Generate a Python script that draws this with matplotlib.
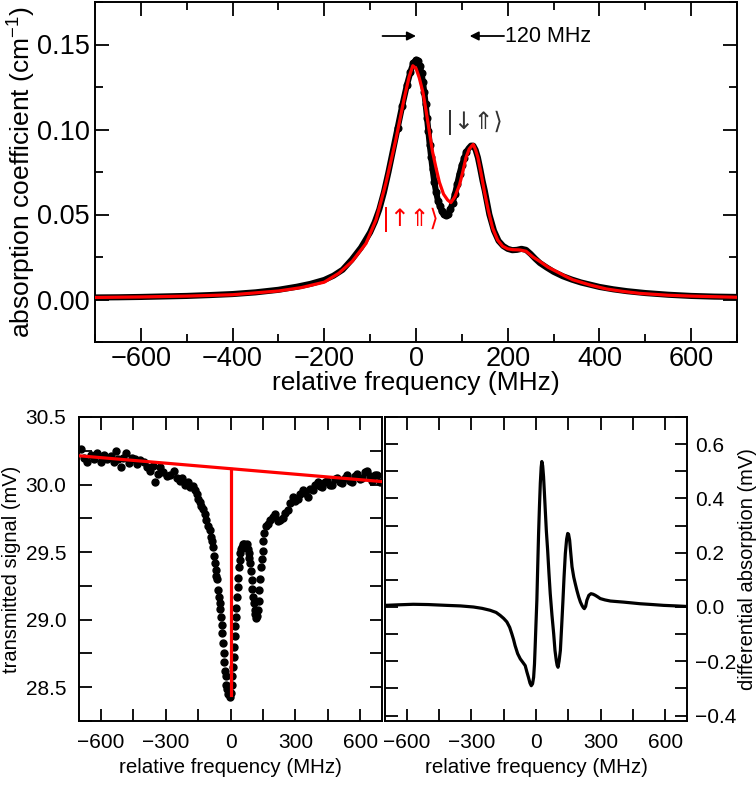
import matplotlib
matplotlib.use("Agg")
import matplotlib.pyplot as plt
from matplotlib.ticker import MultipleLocator

plt.rcParams['font.family'] = ['Liberation Sans', 'DejaVu Sans']
plt.rcParams['mathtext.fontset'] = 'custom'
plt.rcParams['mathtext.rm'] = 'Liberation Sans'
plt.rcParams['mathtext.it'] = 'Liberation Sans'
plt.rcParams['mathtext.default'] = 'regular'

# ---------------- top panel: absorption spectrum ----------------
abs_freq = [-700, -650, -600, -550, -500, -450, -400, -350, -300, -260, -230, -200,
            -180, -160, -140, -120, -100, -90, -80, -70, -60, -50, -40, -30, -20,
            -12, -6, 0, 4, 8, 12, 15, 18, 21, 24, 27, 30, 33, 36, 40, 44, 48, 52,
            56, 60, 65, 70, 75, 80, 85, 90, 95, 100, 105, 110, 115, 120, 125, 130,
            135, 140, 145, 150, 155, 160, 170, 180, 190, 200, 210, 220, 230, 240,
            250, 260, 270, 285, 300, 320, 340, 360, 380, 400, 430, 460, 500, 550,
            600, 650, 700]
abs_data = [0.0012, 0.0013, 0.0015, 0.0018, 0.0021, 0.0026, 0.0032, 0.0042, 0.0057,
            0.0075, 0.0092, 0.0115, 0.0140, 0.0175, 0.0235, 0.0305, 0.0395, 0.0455,
            0.0530, 0.0630, 0.0750, 0.0880, 0.1010, 0.1140, 0.1260, 0.1340, 0.1390,
            0.1410, 0.1405, 0.1375, 0.1330, 0.1280, 0.1220, 0.1150, 0.1070, 0.0990,
            0.0910, 0.0840, 0.0770, 0.0690, 0.0630, 0.0580, 0.0550, 0.0520, 0.0502,
            0.0495, 0.0505, 0.0530, 0.0570, 0.0620, 0.0680, 0.0740, 0.0790, 0.0830,
            0.0870, 0.0890, 0.0905, 0.0905, 0.0880, 0.0835, 0.0770, 0.0700, 0.0640,
            0.0570, 0.0500, 0.0405, 0.0345, 0.0315, 0.0298, 0.0290, 0.0292, 0.0298,
            0.0292, 0.0268, 0.0240, 0.0215, 0.0188, 0.0163, 0.0137, 0.0117, 0.0100,
            0.0087, 0.0074, 0.0060, 0.0049, 0.0038, 0.0028, 0.0021, 0.0017, 0.0015]

fit_freq = [-700, -600, -500, -400, -300, -250, -200, -168, -139, -109, -87, -66,
            -44, -26, -15, -7, 0, 7, 15, 22, 29, 36, 44, 51, 60, 69, 76, 85, 95,
            102, 109, 116, 122, 125, 130, 135, 142, 149, 158, 167, 178, 189, 200,
            211, 225, 240, 255, 270, 288, 306, 325, 342, 380, 415, 450, 488, 550,
            600, 700]
fit_data = [0.0012, 0.0015, 0.0020, 0.0028, 0.0050, 0.0070, 0.0102, 0.0155, 0.0225,
            0.0330, 0.0470, 0.0680, 0.0940, 0.1180, 0.1310, 0.1375, 0.1360, 0.1305,
            0.1220, 0.1110, 0.0990, 0.0870, 0.0770, 0.0690, 0.0620, 0.0585, 0.0570,
            0.0605, 0.0675, 0.0750, 0.0835, 0.0885, 0.0905, 0.0912, 0.0880, 0.0835,
            0.0740, 0.0638, 0.0520, 0.0421, 0.0350, 0.0313, 0.0298, 0.0293, 0.0292,
            0.0284, 0.0250, 0.0224, 0.0190, 0.0165, 0.0138, 0.0116, 0.0085, 0.0062,
            0.0048, 0.0036, 0.0025, 0.0020, 0.0013]

peak_positions = [0, 120]

# ---------------- bottom-left: transmitted signal ----------------
trans_freq = [-692, -676, -661, -645, -630, -615, -600, -585, -569, -554, -540, -531,
              -520, -508, -497, -485, -470, -455, -443, -432, -416, -401, -386, -371,
              -360, -348, -337, -325, -310, -294, -278, -263, -248, -233, -222, -210,
              -198, -187, -175, -164, -156, -149, -141, -134, -126, -119, -111, -103,
              -97, -92, -87, -83, -78, -73, -69, -65, -61, -57, -53, -50, -47, -45,
              -41, -37, -34, -31, -28, -25, -22, -19, -15, -11, -7, -4, 0, 5, 8, 11,
              14, 18, 20, 22, 25, 27, 30, 33, 36, 39, 42, 45, 50, 54, 59, 64, 70, 75,
              80, 84, 87, 90, 94, 98, 101, 105, 108, 112, 115, 118, 122, 126, 130,
              133, 137, 141, 145, 149, 152, 156, 164, 172, 183, 195, 207, 218, 230,
              241, 252, 264, 276, 287, 299, 310, 322, 333, 345, 356, 368, 379, 391,
              402, 414, 425, 437, 448, 459, 470, 482, 493, 505, 516, 528, 539, 551,
              562, 574, 585, 597, 608, 620, 631, 643, 654, 666, 677, 689]
trans_data = [30.26, 30.20, 30.17, 30.22, 30.19, 30.23, 30.17, 30.22, 30.19, 30.21,
              30.17, 30.245, 30.19, 30.13, 30.20, 30.23, 30.16, 30.195, 30.19, 30.15,
              30.18, 30.17, 30.13, 30.10, 30.14, 30.02, 30.08, 30.13, 30.09, 30.06,
              30.07, 30.10, 30.05, 30.03, 30.05, 30.00, 30.02, 29.985, 29.99, 29.96,
              29.93, 29.89, 29.87, 29.84, 29.82, 29.78, 29.74, 29.69, 29.66, 29.61,
              29.58, 29.54, 29.47, 29.42, 29.37, 29.32, 29.30, 29.22, 29.17, 29.12,
              29.08, 29.02, 28.96, 28.90, 28.83, 28.75, 28.69, 28.62, 28.58, 28.52,
              28.49, 28.45, 28.47, 28.43, 28.46, 28.52, 28.58, 28.65, 28.72, 28.80,
              28.88, 28.95, 29.02, 29.09, 29.17, 29.24, 29.31, 29.39, 29.44, 29.49,
              29.52, 29.54, 29.56, 29.56, 29.55, 29.56, 29.52, 29.49, 29.46, 29.42,
              29.36, 29.29, 29.23, 29.17, 29.12, 29.07, 29.04, 29.01, 29.03, 29.07,
              29.14, 29.22, 29.30, 29.39, 29.45, 29.51, 29.58, 29.64, 29.69, 29.71,
              29.74, 29.76, 29.78, 29.73, 29.74, 29.75, 29.79, 29.81, 29.86, 29.91,
              29.88, 29.89, 29.93, 29.96, 29.94, 29.91, 29.97, 29.96, 30.00, 30.02,
              29.99, 29.985, 30.02, 30.03, 30.00, 30.00, 30.04, 30.05, 30.02, 30.01,
              30.05, 30.07, 30.03, 30.02, 30.06, 30.08, 30.04, 30.05, 30.09, 30.10,
              30.06, 30.03, 30.07, 30.07, 30.02]

baseline_freq = [-700, 700]
baseline_data = [30.213, 30.022]
dip_freq = 0
dip_bottom = 28.44
dip_top = 30.118

# ---------------- bottom-right: differential absorption ----------------
diff_freq = [-700, -640, -569, -500, -414, -350, -290, -250, -213, -185, -166, -150,
             -135, -122, -112, -104, -97, -85, -73, -60, -50, -42, -35, -28, -22,
             -16, -11, -7, -4, 0, 4, 8, 12, 16, 20, 24, 27, 31, 35, 39, 43, 48, 54,
             60, 66, 74, 82, 88, 94, 98, 102, 107, 113, 119, 125, 130, 136, 142, 147,
             151, 156, 161, 167, 175, 182, 190, 198, 206, 213, 219, 224, 230, 236,
             245, 255, 265, 275, 287, 298, 320, 345, 375, 406, 445, 483, 540, 592,
             650, 700]
diff_data = [0.006, 0.008, 0.010, 0.009, 0.006, 0.004, 0.000, -0.005, -0.012, -0.020,
             -0.031, -0.042, -0.055, -0.075, -0.099, -0.120, -0.142, -0.172, -0.191,
             -0.205, -0.216, -0.240, -0.259, -0.280, -0.290, -0.283, -0.259, -0.210,
             -0.148, -0.060, 0.025, 0.150, 0.271, 0.370, 0.456, 0.515, 0.536, 0.520,
             0.480, 0.420, 0.357, 0.280, 0.209, 0.125, 0.049, -0.030, -0.099, -0.160,
             -0.197, -0.215, -0.222, -0.200, -0.160, -0.070, 0.025, 0.110, 0.197,
             0.250, 0.271, 0.268, 0.246, 0.200, 0.148, 0.110, 0.086, 0.060, 0.037,
             0.018, 0.006, -0.002, -0.006, 0.002, 0.025, 0.043, 0.049, 0.047, 0.043,
             0.037, 0.031, 0.026, 0.022, 0.020, 0.018, 0.015, 0.012, 0.009, 0.006,
             0.004, 0.002]

RED = '#ff0000'

fig = plt.figure(figsize=(7.56, 7.85), dpi=100)

def style_axes(ax, major_len, minor_len, lw=1.4):
    for s in ax.spines.values():
        s.set_linewidth(lw)
    ax.tick_params(which='both', direction='in', top=True, right=True, width=1.3)
    ax.tick_params(which='major', length=major_len)
    ax.tick_params(which='minor', length=minor_len)

# ---- top axes ----
ax1 = fig.add_axes([95 / 756, 1 - 342 / 785, 642 / 756, 340 / 785])
dot_idx = [i for i, f in enumerate(abs_freq) if -45 <= f <= 110]
ax1.plot(abs_freq, abs_data, '-', color='black', lw=4.4, zorder=2,
         solid_capstyle='round', solid_joinstyle='round')
ax1.plot(abs_freq, abs_data, 'o', color='black', ms=4.8, zorder=2, markevery=dot_idx)
ax1.plot(fit_freq, fit_data, '-', color=RED, lw=2.3, zorder=3,
         solid_joinstyle='round')
ax1.set_xlim(-700, 700)
ax1.set_ylim(-0.025, 0.175)
ax1.xaxis.set_major_locator(MultipleLocator(200))
ax1.xaxis.set_minor_locator(MultipleLocator(100))
ax1.yaxis.set_minor_locator(MultipleLocator(0.025))
ax1.set_yticks([0.0, 0.05, 0.10, 0.15])
ax1.set_yticklabels(['0.00', '0.05', '0.10', '0.15'])
style_axes(ax1, 10, 5.5)
ax1.tick_params(axis='both', which='major', labelsize=19.5, pad=4)
ax1.tick_params(axis='x', which='major', pad=3)
ax1.set_xlabel('relative frequency (MHz)', fontsize=19, labelpad=-1)
ax1.set_ylabel('absorption coefficient (cm$^{-1}$)', fontsize=19, labelpad=-1)

arrow_y = 0.155
ax1.annotate('', xy=(peak_positions[0], arrow_y), xytext=(peak_positions[0] - 73, arrow_y),
             arrowprops=dict(arrowstyle='-|>', color='black', lw=1.3,
                             mutation_scale=13, shrinkA=0, shrinkB=0))
ax1.annotate('', xy=(peak_positions[1] - 3, arrow_y), xytext=(peak_positions[1] + 72, arrow_y),
             arrowprops=dict(arrowstyle='-|>', color='black', lw=1.3,
                             mutation_scale=13, shrinkA=0, shrinkB=0))
ax1.text(peak_positions[1] + 74, arrow_y, '120 MHz', fontsize=15.5, va='center', ha='left')
ax1.text(127, 0.104, '|↓⇑⟩', fontsize=17, color='#333333', ha='center', va='center',
         family=['DejaVu Sans', 'Noto Sans CJK SC'])
ax1.text(-12, 0.047, '|↑⇑⟩', fontsize=17, color=RED, ha='center', va='center',
         family=['DejaVu Sans', 'Noto Sans CJK SC'])

# ---- bottom-left axes ----
ax2 = fig.add_axes([79 / 756, 1 - 721 / 785, 303 / 756, 304 / 785])
ax2.plot(trans_freq, trans_data, 'o', color='black', ms=5.0, zorder=2)
ax2.plot(baseline_freq, baseline_data, '-', color=RED, lw=2.3, zorder=3)
ax2.plot([dip_freq, dip_freq], [dip_bottom, dip_top], '-', color=RED, lw=2.3, zorder=3)
ax2.set_xlim(-700, 700)
ax2.set_ylim(28.25, 30.5)
ax2.xaxis.set_major_locator(MultipleLocator(300))
ax2.xaxis.set_minor_locator(MultipleLocator(150))
ax2.yaxis.set_major_locator(MultipleLocator(0.5))
ax2.yaxis.set_minor_locator(MultipleLocator(0.25))
style_axes(ax2, 9, 9)
ax2.tick_params(axis='both', which='major', labelsize=15, pad=9)
ax2.set_xlabel('relative frequency (MHz)', fontsize=14.8, labelpad=4)
ax2.set_ylabel('transmitted signal (mV)', fontsize=14.5, labelpad=3)

# ---- bottom-right axes ----
ax3 = fig.add_axes([385 / 756, 1 - 721 / 785, 302 / 756, 304 / 785])
ax3.plot(diff_freq, diff_data, '-', color='black', lw=2.3)
ax3.set_xlim(-700, 700)
ax3.set_ylim(-0.42, 0.7)
ax3.xaxis.set_major_locator(MultipleLocator(300))
ax3.xaxis.set_minor_locator(MultipleLocator(150))
ax3.yaxis.set_major_locator(MultipleLocator(0.2))
ax3.yaxis.set_minor_locator(MultipleLocator(0.1))
style_axes(ax3, 9, 9)
ax3.tick_params(axis='both', which='major', labelsize=15, pad=9)
ax3.tick_params(axis='y', which='major', pad=6)
ax3.tick_params(axis='y', which='both', labelleft=False, labelright=True)
ax3.yaxis.set_label_position('right')
ax3.set_xlabel('relative frequency (MHz)', fontsize=14.8, labelpad=4)
ax3.set_ylabel('differential absorption (mV)', fontsize=14.5, labelpad=1, rotation=90)

fig.savefig('out.png', dpi=100)
